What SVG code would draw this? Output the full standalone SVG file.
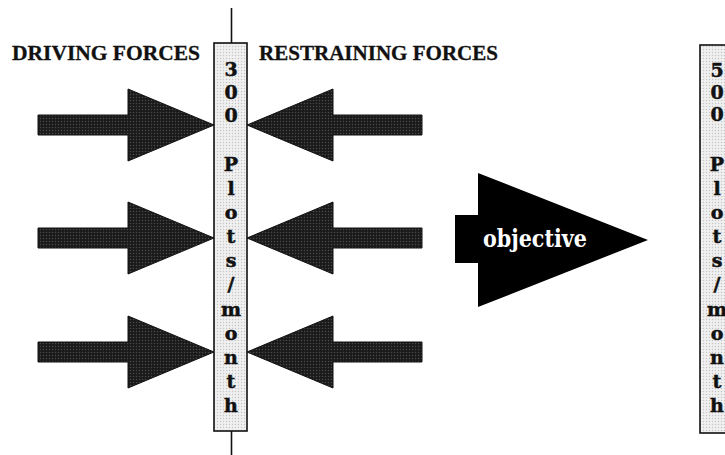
<svg xmlns="http://www.w3.org/2000/svg" width="725" height="455" viewBox="0 0 725 455">
  <defs>
    <!-- halftone fills -->
    <pattern id="darkDots" width="3" height="3" patternUnits="userSpaceOnUse">
      <rect width="3" height="3" fill="#1a1a1a"/>
      <circle cx="1.5" cy="1.5" r="0.75" fill="#4a4a4a"/>
    </pattern>
    <pattern id="lightDots" width="3" height="3" patternUnits="userSpaceOnUse">
      <rect width="3" height="3" fill="#f0f0f0"/>
      <circle cx="1.5" cy="1.5" r="0.7" fill="#c4c4c4"/>
    </pattern>
  </defs>
  <style>
    .force { fill: url(#darkDots); stroke: #111; stroke-width: 1; stroke-linejoin: round; }
    .column { fill: url(#lightDots); stroke: #111; stroke-width: 1.6; }
    .axis { stroke: #111; stroke-width: 1.6; fill: none; }
    .heading { font-family: "Liberation Serif", "Times New Roman", serif; font-weight: bold; font-size: 20px; fill: #111; stroke: #111; stroke-width: 0.3; }
    .stack { font-family: "DejaVu Serif", "Liberation Serif", serif; font-weight: bold; font-size: 19px; fill: #111; stroke: #111; stroke-width: 0.5; text-anchor: middle; }
    .goal { font-family: "DejaVu Serif", "Liberation Serif", serif; font-weight: bold; font-size: 24px; fill: #fff; }
  </style>

  <rect width="725" height="455" fill="#fff"/>

  <!-- headings -->
  <g id="heading-driving">
    <text class="heading" x="12" y="60" textLength="188" lengthAdjust="spacingAndGlyphs">DRIVING FORCES</text>
  </g>
  <g id="heading-restraining">
    <text class="heading" x="259" y="60" textLength="239" lengthAdjust="spacingAndGlyphs">RESTRAINING FORCES</text>
  </g>

  <!-- centre axis line behind the current-state column -->
  <g id="connectors">
    <line class="axis" x1="231.5" y1="8" x2="231.5" y2="43"/>
    <line class="axis" x1="231.5" y1="431" x2="231.5" y2="455"/>
  </g>

  <!-- driving forces (pointing right) -->
  <g id="driving-1">
    <polygon class="force" points="38,115 128,115 128,89 214,125 128,161 128,135 38,135"/>
  </g>
  <g id="driving-2">
    <polygon class="force" points="38,228 128,228 128,202 214,238 128,274 128,248 38,248"/>
  </g>
  <g id="driving-3">
    <polygon class="force" points="38,342 128,342 128,316 214,352 128,388 128,362 38,362"/>
  </g>

  <!-- restraining forces (pointing left) -->
  <g id="restraining-1">
    <polygon class="force" points="422,115 333,115 333,89 247,125 333,161 333,135 422,135"/>
  </g>
  <g id="restraining-2">
    <polygon class="force" points="422,228 333,228 333,202 247,238 333,274 333,248 422,248"/>
  </g>
  <g id="restraining-3">
    <polygon class="force" points="422,342 333,342 333,316 247,352 333,388 333,362 422,362"/>
  </g>

  <!-- current state column -->
  <g id="current-state">
    <rect class="column" x="214" y="43" width="33" height="388"/>
    <text class="stack" x="231" y="76">3</text>
    <text class="stack" x="231" y="99">0</text>
    <text class="stack" x="231" y="122">0</text>
    <text class="stack" x="231" y="171">P</text>
    <text class="stack" x="231" y="195">l</text>
    <text class="stack" x="231" y="219">o</text>
    <text class="stack" x="231" y="243">t</text>
    <text class="stack" x="231" y="267">s</text>
    <text class="stack" x="231" y="291">/</text>
    <text class="stack" x="231" y="316">m</text>
    <text class="stack" x="231" y="340">o</text>
    <text class="stack" x="231" y="364">n</text>
    <text class="stack" x="231" y="388">t</text>
    <text class="stack" x="231" y="412">h</text>
  </g>

  <!-- objective arrow -->
  <g id="objective">
    <polygon fill="#000" points="455,215 478,215 478,173 648,240 478,307 478,263 455,263"/>
    <text class="goal" x="483" y="247" textLength="104" lengthAdjust="spacingAndGlyphs">objective</text>
  </g>

  <!-- target state column -->
  <g id="target-state">
    <rect class="column" x="700" y="45" width="34" height="388"/>
    <text class="stack" x="717" y="77">5</text>
    <text class="stack" x="717" y="99">0</text>
    <text class="stack" x="717" y="121">0</text>
    <text class="stack" x="717" y="171">P</text>
    <text class="stack" x="717" y="195">l</text>
    <text class="stack" x="717" y="219">o</text>
    <text class="stack" x="717" y="243">t</text>
    <text class="stack" x="717" y="267">s</text>
    <text class="stack" x="717" y="291">/</text>
    <text class="stack" x="717" y="316">m</text>
    <text class="stack" x="717" y="340">o</text>
    <text class="stack" x="717" y="364">n</text>
    <text class="stack" x="717" y="388">t</text>
    <text class="stack" x="717" y="412">h</text>
  </g>
</svg>
